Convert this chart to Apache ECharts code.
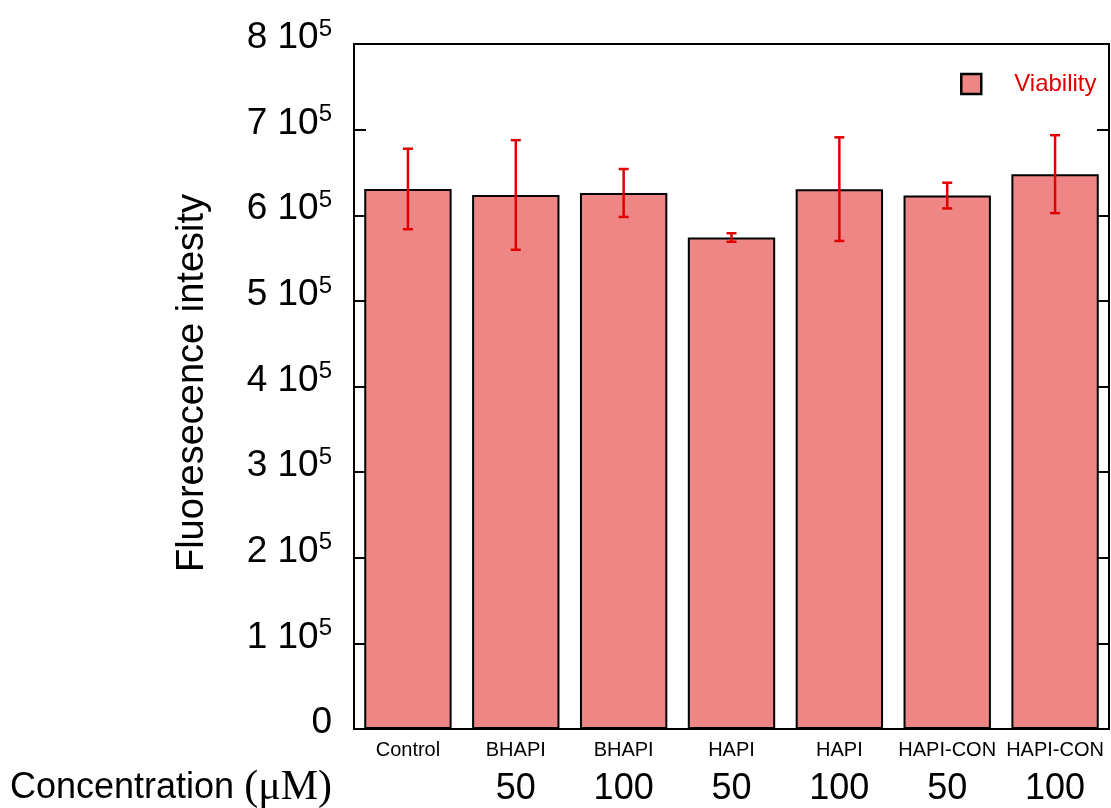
<!DOCTYPE html>
<html>
<head>
<meta charset="utf-8">
<script src="https://cdn.jsdelivr.net/npm/echarts@6/dist/echarts.min.js"></script>
<style>html,body{margin:0;padding:0;background:#fff;}#c{width:1111px;height:808px;}</style>
</head>
<body>
<div id="c"></div>
<script>
const categories = ['Control', 'BHAPI', 'BHAPI', 'HAPI', 'HAPI', 'HAPI-CON', 'HAPI-CON'];
const concentrations = [' ', '50', '100', '50', '100', '50', '100'];
const viability = [630700, 623700, 626000, 574000, 630500, 623000, 648000];
const viabilityErr = [47000, 64000, 28000, 5000, 60500, 15000, 45500];
const yTickValues = [0, 100000, 200000, 300000, 400000, 500000, 600000, 700000, 800000];

const errData = viability.map((v, i) => [i, v - viabilityErr[i], v + viabilityErr[i]]);

const chart = echarts.init(document.getElementById('c'));
const font = 'Liberation Sans, Arial, sans-serif';
chart.setOption({
  animation: false,
  grid: { left: 354, right: 2, top: 44, bottom: 79, show: true, borderColor: '#000', borderWidth: 2, backgroundColor: 'transparent' },
  legend: {
    data: ['Viability'], left: 960, top: 72, padding: 0, icon: 'rect', itemWidth: 20, itemHeight: 20,
    textStyle: { color: '#e00000', fontSize: 24, fontFamily: font, padding: [0, 0, 0, 28] },
    itemStyle: { borderColor: '#000', borderWidth: 2.5 }
  },
  xAxis: {
    type: 'category', data: categories,
    axisLine: { lineStyle: { color: '#000', width: 2 } },
    axisTick: { inside: true, length: 14, lineStyle: { color: '#000', width: 2 } },
    axisLabel: {
      margin: 10, interval: 0,
      formatter: (v, i) => '{n|' + v + '}\n{c|' + concentrations[i] + '}',
      rich: {
        n: { fontSize: 20, fontFamily: font, color: '#000', lineHeight: 22 },
        c: { fontSize: 36, fontFamily: font, color: '#000', lineHeight: 56 }
      }
    }
  },
  yAxis: [{
    type: 'value', min: 0, max: 800000, interval: 100000,
    axisLine: { show: true, lineStyle: { color: '#000', width: 2 } },
    axisTick: { show: true, inside: true, length: 12, lineStyle: { color: '#000', width: 2 } },
    splitLine: { show: false },
    axisLabel: {
      margin: 22, padding: [0, 0, 12, 0],
      formatter: v => v === 0 ? '{a|0}' : '{a|' + (v / 100000) + ' 10}{s|5}',
      rich: {
        a: { fontSize: 37, fontFamily: font, color: '#000', lineHeight: 42 },
        s: { fontSize: 24, fontFamily: font, color: '#000', verticalAlign: 'top', lineHeight: 24 }
      }
    }
  }, {
    type: 'value', position: 'right', min: 0, max: 800000, interval: 100000,
    axisLine: { show: true, lineStyle: { color: '#000', width: 2 } },
    axisTick: { show: true, inside: true, length: 12, lineStyle: { color: '#000', width: 2 } },
    axisLabel: { show: false }, splitLine: { show: false }
  }],
  graphic: [
    {
      type: 'text', rotation: Math.PI / 2, x: 193, y: 383,
      style: { text: 'Fluoresecence intesity', fontSize: 38, fontFamily: font, fill: '#000', align: 'center', verticalAlign: 'middle' }
    },
    {
      type: 'text', x: 10, y: 788,
      style: {
        text: '{a|Concentration }{b|(μM)}', verticalAlign: 'middle',
        rich: {
          a: { fontSize: 36, fontFamily: font, fill: '#000', color: '#000' },
          b: { fontSize: 42, fontFamily: 'Liberation Serif, Times New Roman, serif', fill: '#000', color: '#000' }
        }
      }
    }
  ],
  series: [
    {
      name: 'Viability', type: 'bar', data: viability, barCategoryGap: '19%',
      itemStyle: { color: '#ef8686', borderColor: '#000', borderWidth: 2 },
      emphasis: { disabled: true }, z: 2
    },
    {
      name: 'err', type: 'custom', data: errData, z: 5,
      renderItem: (params, api) => {
        const x = api.value(0);
        const lo = api.coord([x, api.value(1)]);
        const hi = api.coord([x, api.value(2)]);
        const hw = 5;
        const st = { stroke: '#e00000', lineWidth: 2.5 };
        return {
          type: 'group', children: [
            { type: 'line', shape: { x1: hi[0], y1: hi[1], x2: lo[0], y2: lo[1] }, style: st },
            { type: 'line', shape: { x1: hi[0] - hw, y1: hi[1], x2: hi[0] + hw, y2: hi[1] }, style: st },
            { type: 'line', shape: { x1: lo[0] - hw, y1: lo[1], x2: lo[0] + hw, y2: lo[1] }, style: st }
          ]
        };
      }
    }
  ]
});
</script>
</body>
</html>
